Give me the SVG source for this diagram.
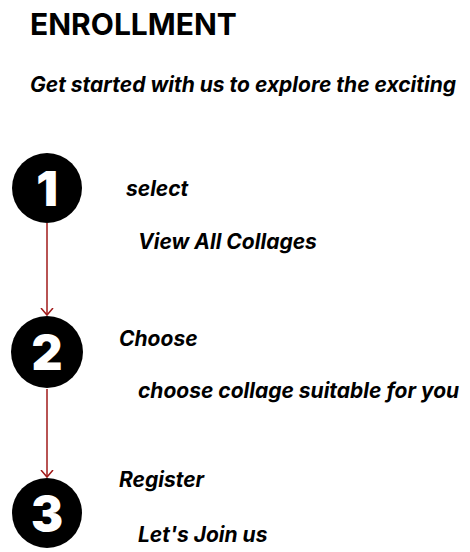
<svg xmlns="http://www.w3.org/2000/svg" width="470" height="552" viewBox="0 0 470 552">
<style>
.t{font-family:Inter,"Liberation Sans",sans-serif;font-weight:700;fill:#000}
.i{font-style:italic;font-size:21px}
.n{font-family:Inter,"Liberation Sans",sans-serif;font-weight:900;font-size:48px;fill:#fff;text-anchor:middle}
.c{fill:#000}
.e{stroke:#a11a1a;stroke-width:1.5;fill:none}
</style>
<defs>
<marker id="ah" markerWidth="10" markerHeight="14" refX="7" refY="7" orient="auto" markerUnits="userSpaceOnUse" viewBox="0 0 10 14">
<path d="M0,1 L7,7 L0,13" fill="none" stroke="#a11a1a" stroke-width="1.5"/>
</marker>
</defs>
<rect width="470" height="552" fill="#fff"/>
<text class="t" x="30" y="35" font-size="30">ENROLLMENT</text>
<text class="t i" x="30" y="92">Get started with us to explore the exciting</text>
<g id="connectors">
<line class="e" x1="47" y1="223" x2="47" y2="315" marker-end="url(#ah)"/>
<line class="e" x1="47" y1="389" x2="47" y2="477" marker-end="url(#ah)"/>
</g>
<g id="step1">
<circle class="c" cx="47" cy="188" r="35"/>
<text class="n" x="47" y="206">1</text>
<text class="t i" x="126" y="196">select</text>
<text class="t i" x="138" y="249">View All Collages</text>
</g>
<g id="step2">
<circle class="c" cx="47" cy="352" r="36"/>
<text class="n" x="47" y="370">2</text>
<text class="t i" x="119" y="346">Choose</text>
<text class="t i" x="138" y="398">choose collage suitable for you</text>
</g>
<g id="step3">
<circle class="c" cx="47" cy="513" r="35"/>
<text class="n" x="47" y="531">3</text>
<text class="t i" x="119" y="487">Register</text>
<text class="t i" x="138" y="542">Let's Join us</text>
</g>
</svg>
